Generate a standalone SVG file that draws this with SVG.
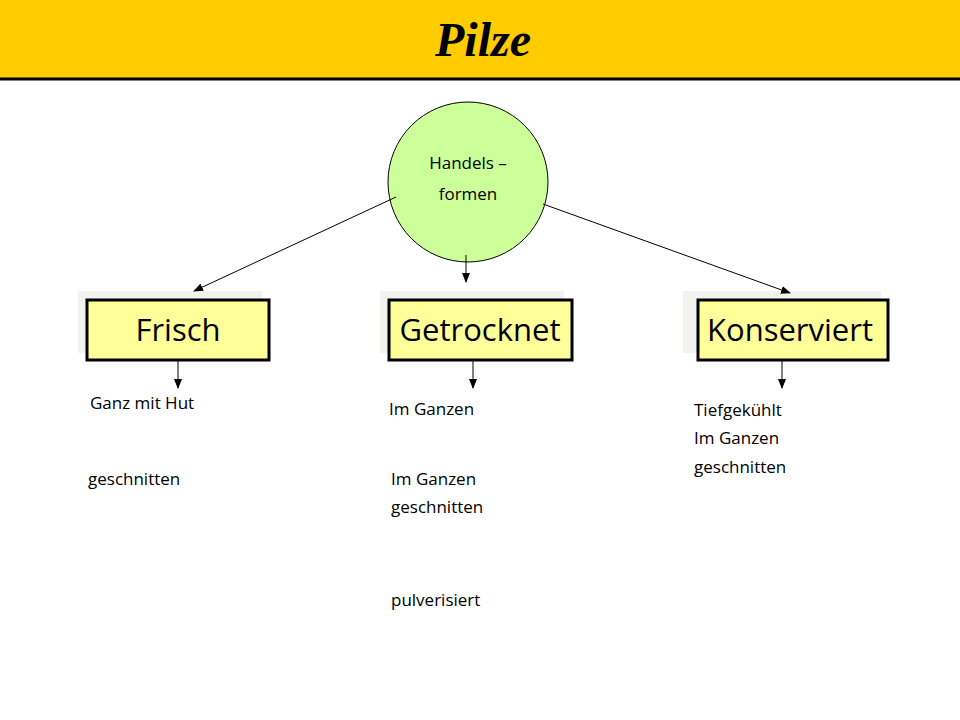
<svg xmlns="http://www.w3.org/2000/svg" width="960" height="720" viewBox="0 0 960 720">
<defs>
<marker id="ah" markerWidth="10" markerHeight="8" refX="9" refY="4" orient="auto" markerUnits="userSpaceOnUse"><path d="M0,0 L10,4 L0,8 z" fill="#000"/></marker>
<style>
.box{fill:#FFFF99;stroke:#000;stroke-width:3}
.sh{fill:#F2F2EE}
.bt{font-family:"Open Sans","Liberation Sans",sans-serif;font-size:31px;text-anchor:middle;fill:#000}
.t{font-family:"Open Sans","Liberation Sans",sans-serif;font-size:17px;fill:#000}
.c{stroke:#000;stroke-width:1;fill:none;marker-end:url(#ah)}
</style>
</defs>
<rect width="960" height="720" fill="#fff"/>
<rect x="0" y="0" width="960" height="78" fill="#FFCC00"/>
<line x1="0" y1="79" x2="960" y2="79" stroke="#000" stroke-width="3"/>
<text x="483" y="56" text-anchor="middle" font-family="Liberation Serif,serif" font-style="italic" font-weight="bold" font-size="48">Pilze</text>
<g id="handelsformen">
<circle cx="468" cy="182" r="80" fill="#CCFF99" stroke="#000" stroke-width="1"/>
<text class="t" x="468" y="169" text-anchor="middle">Handels –</text>
<text class="t" x="468" y="200" text-anchor="middle">formen</text>
</g>
<g id="frisch"><rect class="sh" x="78" y="291" width="184" height="62"/><rect class="box" x="87" y="300" width="182" height="60"/><text class="bt" x="178" y="341">Frisch</text></g>
<g id="getrocknet"><rect class="sh" x="380" y="291" width="184" height="62"/><rect class="box" x="389" y="300" width="183" height="60"/><text class="bt" x="480" y="341">Getrocknet</text></g>
<g id="konserviert"><rect class="sh" x="683" y="291" width="198" height="62"/><rect class="box" x="698" y="300" width="190" height="60"/><text class="bt" x="790" y="341">Konserviert</text></g>
<g id="connectors">
<line class="c" x1="396" y1="197" x2="194" y2="291"/>
<line class="c" x1="466" y1="255" x2="466" y2="282"/>
<line class="c" x1="543" y1="204" x2="790" y2="293"/>
<line class="c" x1="178" y1="361" x2="178" y2="388"/>
<line class="c" x1="473" y1="361" x2="473" y2="388"/>
<line class="c" x1="782" y1="361" x2="782" y2="388"/>
</g>
<g id="labels">
<text class="t" x="90" y="409">Ganz mit Hut</text>
<text class="t" x="88" y="485">geschnitten</text>
<text class="t" x="389" y="415">Im Ganzen</text>
<text class="t" x="391" y="485">Im Ganzen</text>
<text class="t" x="391" y="513">geschnitten</text>
<text class="t" x="391" y="606">pulverisiert</text>
<text class="t" x="694" y="416">Tiefgekühlt</text>
<text class="t" x="694" y="444">Im Ganzen</text>
<text class="t" x="694" y="473">geschnitten</text>
</g>
</svg>
